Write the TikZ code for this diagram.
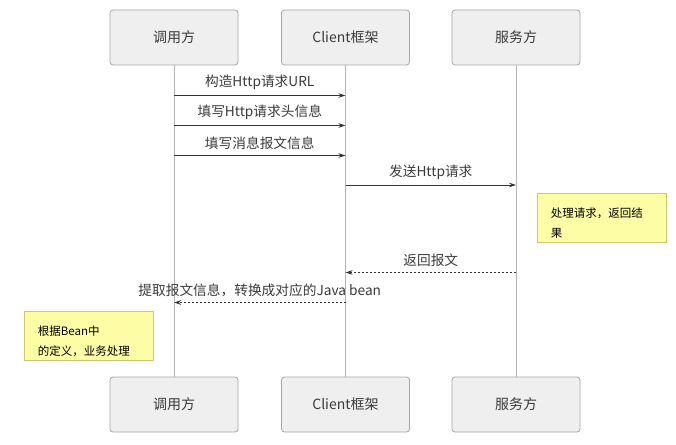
\documentclass[tikz,border=0pt]{standalone}
\usepackage{fontspec}
\setmainfont{Noto Sans CJK SC}
\usetikzlibrary{arrows.meta}
\definecolor{boxfill}{HTML}{EFEFEF}
\definecolor{boxline}{HTML}{A6A6A6}
\definecolor{lifeline}{HTML}{B4B4B4}
\definecolor{msgline}{HTML}{333333}
\definecolor{txt}{HTML}{3A3A3A}
\definecolor{notefill}{HTML}{FDFDA6}
\definecolor{noteline}{HTML}{C9C96A}
\tikzset{
  actor/.style={draw=boxline, fill=boxfill, rounded corners=3pt, minimum width=128pt, minimum height=55pt, inner sep=0pt, font=\fontsize{14}{16}\selectfont, text=txt, line width=0.8pt},
  life/.style={draw=lifeline, line width=0.9pt},
  msg/.style={draw=msgline, line width=0.8pt, -{Stealth[length=7pt,width=4.5pt]}},
  reply/.style={msg, dash pattern=on 2pt off 2pt},
  lbl/.style={font=\fontsize{13.7}{15}\selectfont, text=txt, inner sep=0pt},
  note/.style={draw=noteline, fill=notefill, line width=0.8pt, minimum width=129pt, minimum height=49pt, inner sep=0pt},
  notetxt/.style={font=\fontsize{11.5}{20}\selectfont, text=black, align=left, inner sep=0pt, anchor=north west}
}
\begin{document}
\begin{tikzpicture}[x=1pt,y=-1pt]
\useasboundingbox (0,0) rectangle (676,444);
% actors
\node[actor] (c1) at (174,37.5) {调用方};
\node[actor] (f1) at (345.5,37.5) {Client框架};
\node[actor] (s1) at (516,37.5) {服务方};
\node[actor] (c2) at (174,404.5) {调用方};
\node[actor] (f2) at (345.5,404.5) {Client框架};
\node[actor] (s2) at (516,404.5) {服务方};
% lifelines
\draw[life] (c1.south) -- (c2.north);
\draw[life] (f1.south) -- (f2.north);
\draw[life] (s1.south) -- (s2.north);
% message anchors
\coordinate (m1a) at (174,95.5);  \coordinate (m1b) at (345.5,95.5);
\coordinate (m2a) at (174,125.5); \coordinate (m2b) at (345.5,125.5);
\coordinate (m3a) at (174,155.5); \coordinate (m3b) at (345.5,155.5);
\coordinate (m4a) at (345.5,185); \coordinate (m4b) at (516,185);
\coordinate (m5a) at (516,272.5); \coordinate (m5b) at (345.5,272.5);
\coordinate (m6a) at (345.5,302.5); \coordinate (m6b) at (174,302.5);
% messages
\draw[msg] (m1a) -- (m1b) node[lbl, midway, above=5pt] (t1) {构造Http请求URL};
\draw[msg] (m2a) -- (m2b) node[lbl, midway, above=5pt] (t2) {填写Http请求头信息};
\draw[msg] (m3a) -- (m3b) node[lbl, midway, above=5pt] (t3) {填写消息报文信息};
\draw[msg] (m4a) -- (m4b) node[lbl, midway, above=5pt] (t4) {发送Http请求};
\draw[reply] (m5a) -- (m5b) node[lbl, midway, above=5pt] (t5) {返回报文};
\draw[reply] (m6a) -- (m6b) node[lbl, midway, above=5pt] (t6) {提取报文信息，转换成对应的Java bean};
% notes
\node[note] (n1) at (601.5,217.5) {};
\node[notetxt] (n1t) at ([xshift=14pt,yshift=-15pt]n1.north west) {处理请求，返回结\\果};
\node[note] (n2) at (88.5,335.5) {};
\node[notetxt] (n2t) at ([xshift=14pt,yshift=-15pt]n2.north west) {根据Bean中\\的定义，业务处理};
\end{tikzpicture}
\end{document}
